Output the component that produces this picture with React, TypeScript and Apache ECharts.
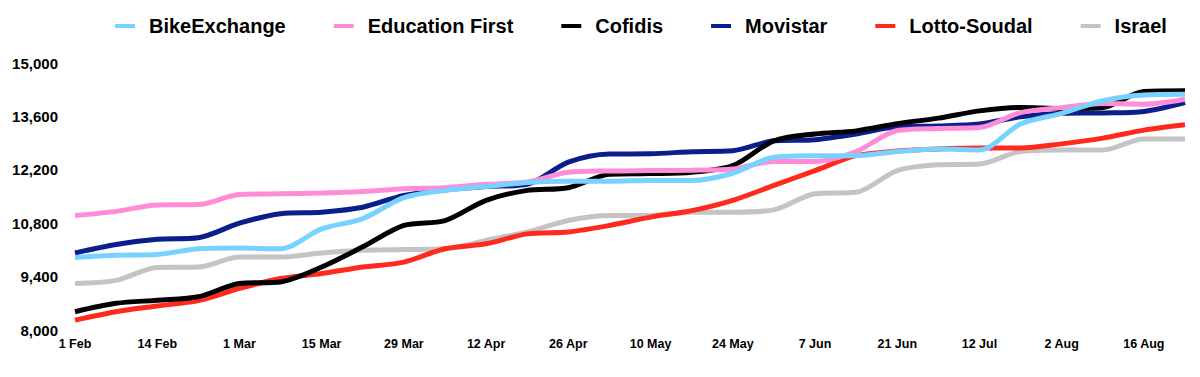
import React, { useEffect, useRef } from "react";
import * as echarts from "echarts";

const categories = [
  "1 Feb", "7 Feb", "14 Feb", "21 Feb", "1 Mar", "8 Mar", "15 Mar", "22 Mar",
  "29 Mar", "5 Apr", "12 Apr", "19 Apr", "26 Apr", "3 May", "10 May", "17 May",
  "24 May", "31 May", "7 Jun", "14 Jun", "21 Jun", "1 Jul", "12 Jul", "23 Jul",
  "2 Aug", "9 Aug", "16 Aug", "23 Aug",
];

const bikeExchange = [
  9900, 9960, 9980, 10130, 10150, 10130, 10650, 10920, 11470, 11660, 11760, 11870, 11900, 11900,
  11920, 11920, 12110, 12530, 12570, 12570, 12680, 12745, 12720, 13400, 13680, 14010, 14160, 14180,
];
const educationFirst = [
  11000, 11110, 11280, 11290, 11550, 11570, 11590, 11630, 11700, 11730, 11820, 11880, 12135, 12170,
  12180, 12190, 12220, 12420, 12420, 12680, 13230, 13285, 13310, 13700, 13830, 13940, 13920, 14050,
];
const cofidis = [
  8480, 8700, 8780, 8870, 9220, 9260, 9650, 10180, 10740, 10870, 11400, 11660, 11730, 12080,
  12100, 12135, 12310, 12960, 13140, 13220, 13410, 13555, 13745, 13835, 13810, 13835, 14250, 14270,
];
const movistar = [
  10020, 10240, 10380, 10420, 10800, 11050, 11090, 11220, 11530, 11670, 11760, 11820, 12400, 12615,
  12620, 12675, 12700, 12960, 12990, 13140, 13330, 13350, 13400, 13590, 13680, 13690, 13730, 13965,
];
const lottoSoudal = [
  8260, 8480, 8630, 8770, 9090, 9350, 9480, 9650, 9780, 10130, 10260, 10520, 10570, 10740,
  10960, 11130, 11400, 11790, 12180, 12570, 12690, 12745, 12770, 12770, 12880, 13030, 13240, 13380,
];
const israel = [
  9220, 9300, 9640, 9650, 9915, 9915, 10020, 10090, 10110, 10130, 10350, 10570, 10870, 11000,
  11000, 11090, 11090, 11150, 11570, 11610, 12180, 12330, 12350, 12680, 12720, 12720, 13005, 13005,
];

const legendOrder = ["BikeExchange", "Education First", "Cofidis", "Movistar", "Lotto-Soudal", "Israel"];

// drawn bottom to top
const seriesDefs = [
  { name: "Israel", data: israel, color: "#C4C4C4" },
  { name: "Lotto-Soudal", data: lottoSoudal, color: "#FF2A1C" },
  { name: "Movistar", data: movistar, color: "#0A1E8C" },
  { name: "Cofidis", data: cofidis, color: "#000000" },
  { name: "Education First", data: educationFirst, color: "#FF8CD8" },
  { name: "BikeExchange", data: bikeExchange, color: "#78D2FF" },
];

const FONT = "'Liberation Sans', Arial, Helvetica, sans-serif";

export default function App() {
  const ref = useRef<HTMLDivElement>(null);
  useEffect(() => {
    if (!ref.current) return;
    const chart = echarts.init(ref.current, undefined, { renderer: "svg" });
    chart.setOption({
      animation: false,
      backgroundColor: "#ffffff",
      legend: {
        data: legendOrder,
        top: 11,
        left: 110,
        icon: "rect",
        itemWidth: 20,
        itemHeight: 4,
        itemGap: 48,
        textStyle: {
          fontFamily: FONT,
          fontWeight: "bold",
          fontSize: 20,
          color: "#000",
          padding: [0, 0, 0, 9],
        },
      },
      grid: { left: 75, right: 15, top: 63, bottom: 47, containLabel: false },
      xAxis: {
        type: "category",
        data: categories,
        boundaryGap: false,
        axisLine: { show: false },
        axisTick: { show: false },
        splitLine: { show: false },
        axisLabel: {
          interval: 1,
          margin: 7,
          fontFamily: FONT,
          fontWeight: "bold",
          fontSize: 12.5,
          color: "#000",
        },
      },
      yAxis: {
        type: "value",
        min: 8000,
        max: 15000,
        interval: 1400,
        axisLine: { show: false },
        axisTick: { show: false },
        splitLine: { show: false },
        axisLabel: {
          margin: 17,
          fontFamily: FONT,
          fontWeight: "bold",
          fontSize: 15,
          color: "#000",
          formatter: (v: number) => v.toLocaleString("en-US"),
        },
      },
      series: seriesDefs.map((s) => ({
        name: s.name,
        type: "line",
        data: s.data,
        smooth: 0.3,
        symbol: "none",
        showSymbol: false,
        color: s.color,
        lineStyle: { width: 5, color: s.color },
      })),
    });
    return () => chart.dispose();
  }, []);
  return (
    <div
      ref={ref}
      style={{ position: "absolute", left: 0, top: 0, width: 1200, height: 377 }}
    />
  );
}
